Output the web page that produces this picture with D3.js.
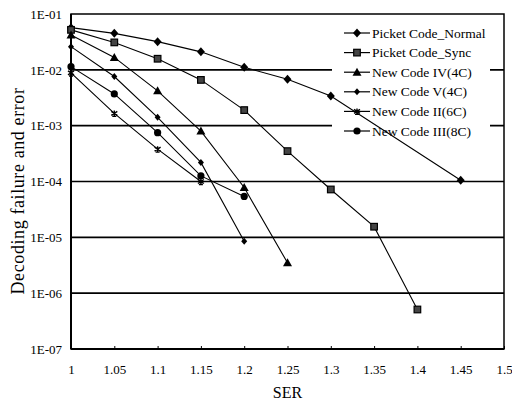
<!DOCTYPE html>
<html>
<head>
<meta charset="utf-8">
<script src="https://cdn.jsdelivr.net/npm/d3@7/dist/d3.min.js"></script>
<style>
  html, body { margin: 0; padding: 0; background: #fff; }
  svg { display: block; }
  svg text { font-family: "Liberation Serif", "Tinos", "Times New Roman", Times, "Nimbus Roman", "FreeSerif", "Noto Serif", "DejaVu Serif", serif; fill: #000; }
</style>
</head>
<body>
<svg id="chart" width="512" height="405"></svg>
<script>
// SER values on the x axis
const xTicks = [1, 1.05, 1.1, 1.15, 1.2, 1.25, 1.3, 1.35, 1.4, 1.45, 1.5];
const xTickLabels = ["1", "1.05", "1.1", "1.15", "1.2", "1.25", "1.3", "1.35", "1.4", "1.45", "1.5"];
const yTicks = [1e-7, 1e-6, 1e-5, 1e-4, 1e-3, 1e-2, 1e-1];
const yTickLabels = ["1E-07", "1E-06", "1E-05", "1E-04", "1E-03", "1E-02", "1E-01"];

// Decoding failure and error rates per code
const serNormal = [1, 1.05, 1.1, 1.15, 1.2, 1.25, 1.3, 1.45];
const picketNormal = [5.7e-2, 4.5e-2, 3.2e-2, 2.1e-2, 1.11e-2, 6.8e-3, 3.4e-3, 1.05e-4];

const serSync = [1, 1.05, 1.1, 1.15, 1.2, 1.25, 1.3, 1.35, 1.4];
const picketSync = [5.2e-2, 3.1e-2, 1.58e-2, 6.6e-3, 1.9e-3, 3.5e-4, 7.2e-5, 1.55e-5, 5.1e-7];

const serIV = [1, 1.05, 1.1, 1.15, 1.2, 1.25];
const codeIV = [4.2e-2, 1.67e-2, 4.2e-3, 8.0e-4, 7.8e-5, 3.5e-6];

const serV = [1, 1.05, 1.1, 1.15, 1.2];
const codeV = [2.6e-2, 7.6e-3, 1.41e-3, 2.2e-4, 8.5e-6];

const serII = [1, 1.05, 1.1, 1.15];
const codeII = [8.8e-3, 1.66e-3, 3.8e-4, 1.0e-4];

const serIII = [1, 1.05, 1.1, 1.15, 1.2];
const codeIII = [1.14e-2, 3.7e-3, 7.5e-4, 1.26e-4, 5.4e-5];

const seriesNames = ["Picket Code_Normal", "Picket Code_Sync", "New Code IV(4C)", "New Code V(4C)", "New Code II(6C)", "New Code III(8C)"];
const seriesX = [serNormal, serSync, serIV, serV, serII, serIII];
const seriesY = [picketNormal, picketSync, codeIV, codeV, codeII, codeIII];
const markerTypes = ["diamond", "square", "triangle", "smalldiamond", "star", "circle"];

const svg = d3.select("#chart");
const plotLeft = 71, plotRight = 504, plotTop = 14, plotBottom = 349;

const x = d3.scaleLinear().domain([1, 1.5]).range([plotLeft, plotRight]);
const y = d3.scaleLog().domain([1e-7, 1e-1]).range([plotBottom, plotTop]);

// horizontal gridlines at each decade
svg.append("g")
  .selectAll("line")
  .data(yTicks.slice(1, -1))
  .join("line")
  .attr("x1", plotLeft).attr("x2", plotRight)
  .attr("y1", d => y(d)).attr("y2", d => y(d))
  .attr("stroke", "#000").attr("stroke-width", 1.6);

// plot frame
svg.append("rect")
  .attr("x", plotLeft).attr("y", plotTop)
  .attr("width", plotRight - plotLeft).attr("height", plotBottom - plotTop)
  .attr("fill", "none").attr("stroke", "#000").attr("stroke-width", 1.5);
svg.append("line").attr("x1", plotLeft).attr("x2", plotLeft).attr("y1", plotTop).attr("y2", plotBottom)
  .attr("stroke", "#000").attr("stroke-width", 2);
svg.append("line").attr("x1", plotLeft).attr("x2", plotRight).attr("y1", plotBottom).attr("y2", plotBottom)
  .attr("stroke", "#000").attr("stroke-width", 2);

// x axis with small inward ticks
const xAxis = d3.axisBottom(x)
  .tickValues(xTicks)
  .tickFormat((d, i) => xTickLabels[i])
  .tickSizeInner(-3).tickSizeOuter(0).tickPadding(16);
const gx = svg.append("g").attr("transform", `translate(0,${plotBottom})`).call(xAxis)
  .attr("font-family", null).attr("font-size", null);
gx.select(".domain").remove();
gx.selectAll("line").attr("stroke", "#000");
gx.selectAll("text").style("font-size", "13px").attr("fill", "#000");

// y axis labels
const yAxis = d3.axisLeft(y)
  .tickValues(yTicks)
  .tickFormat((d, i) => yTickLabels[i])
  .tickSize(0).tickPadding(9);
const gy = svg.append("g").attr("transform", `translate(${plotLeft},0)`).call(yAxis)
  .attr("font-family", null).attr("font-size", null);
gy.select(".domain").remove();
gy.selectAll("text").style("font-size", "13px").attr("fill", "#000");

// axis titles
svg.append("text")
  .attr("x", (plotLeft + plotRight) / 2).attr("y", 398)
  .attr("text-anchor", "middle").style("font-size", "16px")
  .text("SER");
svg.append("text")
  .attr("transform", "translate(24,191) rotate(-90)")
  .attr("text-anchor", "middle").style("font-size", "18px")
  .attr("letter-spacing", 0.6)
  .text("Decoding failure and error");

// marker shapes
function drawMarker(g, type, cx, cy) {
  if (type === "diamond") {
    g.append("path").attr("d", `M${cx},${cy - 4.5}L${cx + 4},${cy}L${cx},${cy + 4.5}L${cx - 4},${cy}Z`).attr("fill", "#000");
  } else if (type === "square") {
    g.append("rect").attr("x", cx - 3.3).attr("y", cy - 3.3).attr("width", 6.6).attr("height", 6.6)
      .attr("fill", "#444").attr("stroke", "#000").attr("stroke-width", 1.2);
  } else if (type === "triangle") {
    g.append("path").attr("d", `M${cx},${cy - 4.5}L${cx + 4.5},${cy + 3.5}L${cx - 4.5},${cy + 3.5}Z`).attr("fill", "#000");
  } else if (type === "smalldiamond") {
    g.append("path").attr("d", `M${cx},${cy - 3.5}L${cx + 3},${cy}L${cx},${cy + 3.5}L${cx - 3},${cy}Z`).attr("fill", "#000");
  } else if (type === "star") {
    g.append("path").attr("d", `M${cx - 3},${cy - 2}L${cx + 3},${cy + 2}M${cx + 3},${cy - 2}L${cx - 3},${cy + 2}M${cx},${cy - 3}L${cx},${cy + 3}M${cx - 2},${cy + 3}L${cx + 2},${cy + 3}`)
      .attr("stroke", "#000").attr("stroke-width", 1.4).attr("fill", "none");
  } else if (type === "circle") {
    g.append("circle").attr("cx", cx).attr("cy", cy).attr("r", 3.6).attr("fill", "#000");
  }
}

// legend background hides gridlines behind it
const legX = 332, legY = 22;
svg.append("rect").attr("x", legX).attr("y", legY).attr("width", 158).attr("height", 116).attr("fill", "#fff");

// series lines and markers
const line = d3.line().x(d => x(d[0])).y(d => y(d[1]));
seriesNames.forEach((name, i) => {
  const pts = seriesX[i].map((v, j) => [v, seriesY[i][j]]);
  const g = svg.append("g");
  g.append("path").datum(pts).attr("d", line)
    .attr("fill", "none").attr("stroke", "#000").attr("stroke-width", 1.1);
  pts.forEach(p => drawMarker(g, markerTypes[i], x(p[0]), y(p[1])));
});

// legend entries
seriesNames.forEach((name, i) => {
  const ly = 33 + i * 19.6;
  const g = svg.append("g");
  g.append("line").attr("x1", 344).attr("x2", 370).attr("y1", ly).attr("y2", ly)
    .attr("stroke", "#000").attr("stroke-width", 1.2);
  drawMarker(g, markerTypes[i], 357, ly);
  g.append("text").attr("x", 372).attr("y", ly + 4.5).style("font-size", "13.5px").text(name);
});
</script>
</body>
</html>
